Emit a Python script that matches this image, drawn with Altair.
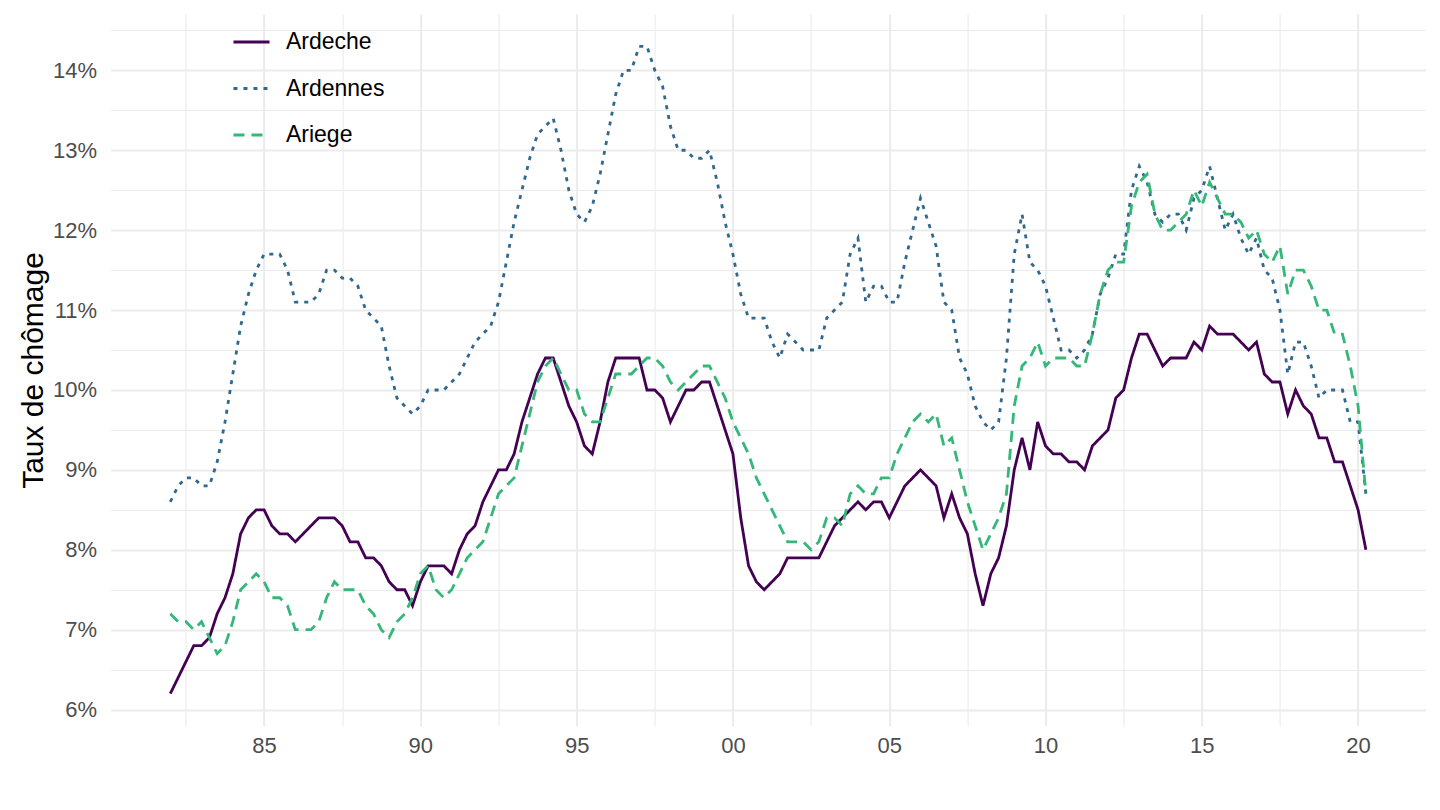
import altair as alt
import pandas as pd

# Départements (legend order)
departements = ["Ardeche", "Ardennes", "Ariege"]

# Quarterly unemployment rate (%), 1982 T1 -> 2020 T2
ardeche = [
    6.2, 6.4, 6.6, 6.8, 6.8, 6.9, 7.2, 7.4, 7.7, 8.2,
    8.4, 8.5, 8.5, 8.3, 8.2, 8.2, 8.1, 8.2, 8.3, 8.4,
    8.4, 8.4, 8.3, 8.1, 8.1, 7.9, 7.9, 7.8, 7.6, 7.5,
    7.5, 7.3, 7.6, 7.8, 7.8, 7.8, 7.7, 8.0, 8.2, 8.3,
    8.6, 8.8, 9.0, 9.0, 9.2, 9.6, 9.9, 10.2, 10.4, 10.4,
    10.1, 9.8, 9.6, 9.3, 9.2, 9.6, 10.1, 10.4, 10.4, 10.4,
    10.4, 10.0, 10.0, 9.9, 9.6, 9.8, 10.0, 10.0, 10.1, 10.1,
    9.8, 9.5, 9.2, 8.4, 7.8, 7.6, 7.5, 7.6, 7.7, 7.9,
    7.9, 7.9, 7.9, 7.9, 8.1, 8.3, 8.4, 8.5, 8.6, 8.5,
    8.6, 8.6, 8.4, 8.6, 8.8, 8.9, 9.0, 8.9, 8.8, 8.4,
    8.7, 8.4, 8.2, 7.7, 7.3, 7.7, 7.9, 8.3, 9.0, 9.4,
    9.0, 9.6, 9.3, 9.2, 9.2, 9.1, 9.1, 9.0, 9.3, 9.4,
    9.5, 9.9, 10.0, 10.4, 10.7, 10.7, 10.5, 10.3, 10.4, 10.4,
    10.4, 10.6, 10.5, 10.8, 10.7, 10.7, 10.7, 10.6, 10.5, 10.6,
    10.2, 10.1, 10.1, 9.7, 10.0, 9.8, 9.7, 9.4, 9.4, 9.1,
    9.1, 8.8, 8.5, 8.0,
]
ardennes = [
    8.6, 8.8, 8.9, 8.9, 8.8, 8.8, 9.1, 9.6, 10.2, 10.8,
    11.2, 11.5, 11.7, 11.7, 11.7, 11.5, 11.1, 11.1, 11.1, 11.2,
    11.5, 11.5, 11.4, 11.4, 11.3, 11.0, 10.9, 10.8, 10.3, 9.9,
    9.8, 9.7, 9.8, 10.0, 10.0, 10.0, 10.1, 10.2, 10.4, 10.6,
    10.7, 10.8, 11.1, 11.6, 12.1, 12.5, 12.9, 13.2, 13.3, 13.4,
    13.0, 12.5, 12.2, 12.1, 12.3, 12.7, 13.2, 13.7, 14.0, 14.0,
    14.3, 14.3, 14.0, 13.8, 13.3, 13.0, 13.0, 12.9, 12.9, 13.0,
    12.6, 12.1, 11.7, 11.2, 10.9, 10.9, 10.9, 10.6, 10.4, 10.7,
    10.6, 10.5, 10.5, 10.5, 10.9, 11.0, 11.1, 11.7, 11.9, 11.1,
    11.3, 11.3, 11.1, 11.1, 11.6, 12.0, 12.4, 12.1, 11.8, 11.1,
    11.0, 10.4, 10.2, 9.8, 9.6, 9.5, 9.6, 10.4, 11.7, 12.2,
    11.6, 11.5, 11.3, 10.9, 10.5, 10.5, 10.4, 10.5, 10.7, 11.2,
    11.4, 11.7, 11.7, 12.5, 12.8, 12.6, 12.2, 12.1, 12.2, 12.2,
    12.0, 12.4, 12.5, 12.8, 12.4, 12.0, 12.2, 11.9, 11.7, 11.9,
    11.5, 11.4, 11.0, 10.2, 10.6, 10.6, 10.3, 9.9, 10.0, 10.0,
    10.0, 9.6, 9.6, 8.7,
]
ariege = [
    7.2, 7.1, 7.1, 7.0, 7.1, 6.9, 6.7, 6.8, 7.1, 7.5,
    7.6, 7.7, 7.6, 7.4, 7.4, 7.3, 7.0, 7.0, 7.0, 7.1,
    7.4, 7.6, 7.5, 7.5, 7.5, 7.3, 7.2, 7.0, 6.9, 7.1,
    7.2, 7.4, 7.7, 7.8, 7.5, 7.4, 7.5, 7.7, 7.9, 8.0,
    8.1, 8.4, 8.7, 8.8, 8.9, 9.3, 9.7, 10.1, 10.3, 10.4,
    10.2, 10.0, 10.0, 9.7, 9.6, 9.6, 9.9, 10.2, 10.2, 10.2,
    10.3, 10.4, 10.4, 10.3, 10.1, 10.0, 10.1, 10.2, 10.3, 10.3,
    10.1, 9.9, 9.6, 9.4, 9.2, 8.9, 8.7, 8.5, 8.3, 8.1,
    8.1, 8.1, 8.0, 8.1, 8.4, 8.4, 8.3, 8.7, 8.8, 8.7,
    8.7, 8.9, 8.9, 9.2, 9.4, 9.6, 9.7, 9.6, 9.7, 9.3,
    9.4, 9.0, 8.6, 8.3, 8.0, 8.2, 8.4, 8.7, 9.8, 10.3,
    10.4, 10.6, 10.3, 10.4, 10.4, 10.4, 10.3, 10.3, 10.7, 11.2,
    11.5, 11.6, 11.6, 12.3, 12.6, 12.7, 12.2, 12.0, 12.0, 12.1,
    12.2, 12.5, 12.3, 12.6, 12.4, 12.2, 12.2, 12.1, 11.9, 12.0,
    11.7, 11.6, 11.8, 11.2, 11.5, 11.5, 11.3, 11.0, 11.0, 10.7,
    10.7, 10.3, 9.8, 8.7,
]
first_year = 1982  # first observation: 1982 T1, one point per quarter

# Axis breaks (major every 5 years / 1 point, minor halfway)
x_breaks = [1982.5, 1985, 1987.5, 1990, 1992.5, 1995, 1997.5, 2000, 2002.5,
            2005, 2007.5, 2010, 2012.5, 2015, 2017.5, 2020]
y_breaks = [6, 6.5, 7, 7.5, 8, 8.5, 9, 9.5, 10, 10.5, 11, 11.5, 12, 12.5,
            13, 13.5, 14, 14.5]

colors = ["#440154", "#31688E", "#35B779"]
dashes = [[1, 0], [4, 6], [11, 7]]

dates = [first_year + q / 4 for q in range(len(ardeche))]
rows = []
for name, vals in zip(departements, [ardeche, ardennes, ariege]):
    for d, v in zip(dates, vals):
        rows.append({"date": d, "departement": name, "taux": v})
df = pd.DataFrame(rows)

FONT = "Liberation Sans"

legend = alt.Legend(
    title=None, orient="none", legendX=121.4, legendY=8.5,
    symbolType="stroke", symbolSize=1300, symbolStrokeWidth=2.8,
    labelFontSize=23, labelColor="black", labelFont=FONT,
    labelOffset=15, rowPadding=14.5, padding=0,
)

chart = alt.Chart(df).mark_line(strokeWidth=2.8).encode(
    x=alt.X(
        "date:Q",
        scale=alt.Scale(domain=[1980.09, 2022.16], nice=False, zero=False),
        axis=alt.Axis(
            values=x_breaks,
            labelExpr="datum.value % 5 === 0 ? format(datum.value % 100, '02d') : ''",
            domain=False, ticks=False, title=None,
            labelFontSize=22, labelColor="#4D4D4D", labelFont=FONT,
            labelPadding=9.5, labelFlush=False, labelOverlap=False,
            gridColor="#EBEBEB",
            gridWidth={"condition": {"test": "datum.value % 5 === 0", "value": 2}, "value": 1.1},
        ),
    ),
    y=alt.Y(
        "taux:Q",
        scale=alt.Scale(domain=[5.795, 14.705], nice=False, zero=False),
        axis=alt.Axis(
            values=y_breaks,
            labelExpr="datum.value % 1 === 0 ? datum.value + '%' : ''",
            domain=False, ticks=False,
            title="Taux de chômage", titleFontSize=30, titleFontWeight="normal",
            titleColor="black", titleFont=FONT, titlePadding=4,
            labelFontSize=22, labelColor="#4D4D4D", labelFont=FONT,
            labelPadding=14, labelOverlap=False,
            gridColor="#EBEBEB",
            gridWidth={"condition": {"test": "datum.value % 1 === 0", "value": 2}, "value": 1.1},
        ),
    ),
    color=alt.Color("departement:N", scale=alt.Scale(domain=departements, range=colors), legend=legend),
    strokeDash=alt.StrokeDash("departement:N", scale=alt.Scale(domain=departements, range=dashes), legend=legend),
).properties(
    width=1315, height=712,
    autosize=alt.AutoSizeParams(type="none"),
    padding={"left": 102.6, "top": 6, "right": 2, "bottom": 60},
    view=alt.ViewBackground(stroke=None, strokeWidth=0),
).configure_view(stroke=None, strokeWidth=0).configure(font=FONT)

chart.save("out.html", embed_options={"renderer": "svg", "actions": False})
